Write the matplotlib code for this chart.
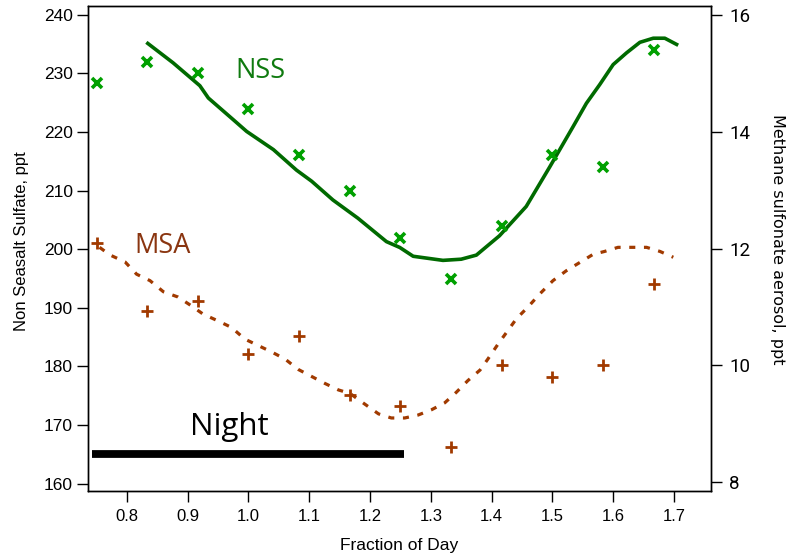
import matplotlib
matplotlib.use("Agg")
import matplotlib.pyplot as plt
import numpy as np

# Sampling times (fraction of day) for the aerosol measurements
frac_day = [0.750, 0.833, 0.917, 1.000, 1.083, 1.167, 1.250, 1.333, 1.417, 1.500, 1.583, 1.667]

# Non seasalt sulfate (ppt), left axis
nss = [228.3, 232.0, 230.0, 224.0, 216.0, 210.0, 202.0, 195.0, 204.0, 216.0, 214.0, 234.0]

# Methane sulfonate aerosol (ppt), right axis
msa = [12.1, 10.93, 11.1, 10.2, 10.5, 9.5, 9.3, 8.6, 10.0, 9.8, 10.0, 11.4]

# Smoothed NSS fit
nss_fit_x = [0.832, 0.876, 0.920, 0.934, 0.975, 0.997, 1.041, 1.079, 1.104, 1.139, 1.180,
             1.227, 1.249, 1.271, 1.320, 1.350, 1.375, 1.413, 1.457, 1.496, 1.534, 1.556,
             1.578, 1.600, 1.622, 1.644, 1.666, 1.685, 1.707]
nss_fit_y = [235.3, 231.8, 227.9, 225.8, 222.1, 220.1, 217.0, 213.5, 211.6, 208.4, 205.3,
             201.3, 200.3, 198.8, 198.1, 198.3, 199.0, 202.3, 207.3, 214.1, 220.9, 224.9,
             228.1, 231.5, 233.5, 235.3, 236.0, 236.0, 234.8]

# Smoothed MSA fit
msa_fit_x = [0.755, 0.772, 0.797, 0.816, 0.838, 0.860, 0.884, 0.906, 0.925, 0.950, 0.972,
             0.994, 1.016, 1.038, 1.060, 1.082, 1.104, 1.126, 1.148, 1.167, 1.191, 1.214,
             1.235, 1.257, 1.279, 1.301, 1.323, 1.342, 1.361, 1.381, 1.394, 1.411, 1.425,
             1.441, 1.460, 1.479, 1.501, 1.523, 1.545, 1.567, 1.586, 1.608, 1.633, 1.655,
             1.677, 1.699]
msa_fit_y = [12.02, 11.89, 11.77, 11.56, 11.45, 11.26, 11.17, 11.02, 10.88, 10.76, 10.65,
             10.45, 10.34, 10.23, 10.11, 9.93, 9.81, 9.69, 9.58, 9.52, 9.34, 9.17,
             9.10, 9.10, 9.15, 9.24, 9.36, 9.54, 9.74, 9.92, 10.11, 10.37, 10.57,
             10.80, 11.00, 11.22, 11.45, 11.62, 11.76, 11.90, 11.95, 12.02, 12.02, 12.02,
             11.95, 11.85]

# Night period
night_x = [0.742, 1.256]
night_y = [165.1, 165.1]

left_ticks = [160, 170, 180, 190, 200, 210, 220, 230, 240]
right_ticks = [8, 10, 12, 14, 16]
x_ticks = [0.8, 0.9, 1.0, 1.1, 1.2, 1.3, 1.4, 1.5, 1.6, 1.7]

green_mark = "#00a000"
green_line = "#006a00"
green_text = "#0f7a0f"
brown = "#a13a00"
brown_text = "#8a3510"

fig = plt.figure(figsize=(7.9, 5.59), dpi=100)
ax = fig.add_axes([0.1114, 0.1216, 0.7886, 0.8677])
ax2 = ax.twinx()

ax.plot(nss_fit_x, nss_fit_y, color=green_line, lw=2.6, solid_capstyle="butt", zorder=3)
ax.plot(frac_day, nss, linestyle="none", marker="x", ms=7.5, mew=2.6, color=green_mark, zorder=4)
ax.plot(night_x, night_y, color="black", lw=5.6, solid_capstyle="butt", zorder=3)

ax2.plot(msa_fit_x, msa_fit_y, color=brown, lw=2.3, linestyle=(0, (1.9, 2.7)),
         dash_capstyle="butt", zorder=3)
ax2.plot(frac_day, msa, linestyle="none", marker="+", ms=9, mew=2.0, color=brown, zorder=4)

ax.text(1.019, 230.4, "NSS", color=green_text, fontsize=19.5, family="Open Sans",
        ha="center", va="center")
ax.text(0.858, 200.6, "MSA", color=brown_text, fontsize=19.5, family="Open Sans",
        ha="center", va="center")
ax.text(0.968, 169.6, "Night", color="black", fontsize=22.5, family="Open Sans",
        ha="center", va="center")

ax.set_xlim(0.736, 1.761)
ax.set_ylim(158.75, 241.5)
ax2.set_ylim(7.85, 16.15)

ax.set_xticks(x_ticks)
ax.set_xticklabels([f"{v:.1f}" for v in x_ticks], family="Liberation Sans", fontsize=12)
ax.set_yticks(left_ticks)
ax.set_yticklabels([str(v) for v in left_ticks], family="Liberation Sans", fontsize=12.5)
ax2.set_yticks(right_ticks)
ax2.set_yticklabels([str(v) for v in right_ticks], family="Roboto", fontsize=13.5)

ax.tick_params(axis="both", direction="out", length=8, width=1.0, colors="black", pad=3)
ax.tick_params(axis="x", top=False, pad=5)
ax2.tick_params(axis="y", direction="out", length=8, width=1.0, pad=5)

ax.set_xlabel("Fraction of Day", family="Liberation Sans", fontsize=12.5, labelpad=10)
ax.set_ylabel("Non Seasalt Sulfate, ppt", family="Liberation Sans", fontsize=12,
              ha="center", va="center")
ax.yaxis.set_label_coords(-0.107, 0.515)
ax2.set_ylabel("Methane sulfonate aerosol, ppt", family="DejaVu Sans", fontsize=11.5,
               rotation=270, ha="center", va="center")
ax2.yaxis.set_label_coords(1.106, 0.52)

for a in (ax, ax2):
    for s in a.spines.values():
        s.set_linewidth(1.0)

fig.savefig("out.png", dpi=100)
